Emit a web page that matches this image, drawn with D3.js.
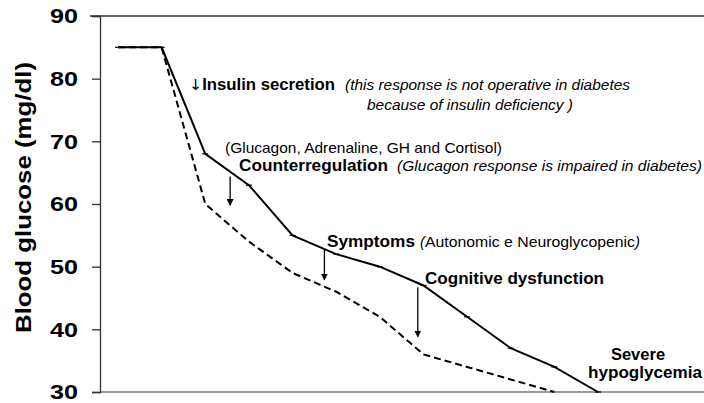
<!DOCTYPE html>
<html>
<head>
<meta charset="utf-8">
<script src="https://cdn.jsdelivr.net/npm/d3@7"></script>
<style>
  html, body { margin: 0; padding: 0; background: #fff; }
  svg { display: block; }
  text { font-family: "Liberation Sans", Arial, sans-serif; fill: #000; }
</style>
</head>
<body>
<svg id="chart" width="704" height="403"></svg>
<script>
// Time steps along the fall of blood glucose (no labels on the x axis)
const steps = [0, 1, 2, 3, 4, 5, 6, 7, 8, 9, 10, 11];
// Blood glucose (mg/dl): normal response (solid) and diabetes (dashed)
const normalGlucose = [85, 85, 68, 63, 55, 52, 50, 47, 42, 37, 34, 30];
const diabetesGlucose = [85, 85, 60, 54, 49, 46, 42, 36, 34, 32, 30];
// Y axis ticks
const yTicks = [30, 40, 50, 60, 70, 80, 90];
// Arrows marking where each response starts (step, glucose from -> to)
const arrowSteps = [2.57, 4.73, 6.87];
const arrowFrom = [64.4, 52.7, 46.7];
const arrowTo = [59.8, 47.9, 38.8];

const svg = d3.select("#chart");

const x = d3.scaleLinear().domain([0, 11]).range([118, 598]);
const y = d3.scaleLinear().domain([30, 90]).range([392, 16]);

// top border line at 90
svg.append("line")
  .attr("x1", 90).attr("x2", 704)
  .attr("y1", y(90)).attr("y2", y(90))
  .attr("stroke", "#333").attr("stroke-width", 1.3);

// x axis baseline
svg.append("line")
  .attr("x1", 100).attr("x2", 704)
  .attr("y1", y(30)).attr("y2", y(30))
  .attr("stroke", "#777").attr("stroke-width", 1.3);

// y axis
const yAxis = d3.axisLeft(y).tickValues(yTicks).tickSize(8).tickPadding(14).tickFormat(d3.format("d"));
const yg = svg.append("g").attr("transform", "translate(100,0)").call(yAxis);
yg.select(".domain").attr("stroke", "#333").attr("stroke-width", 1.3);
yg.selectAll(".tick line").attr("stroke", "#333").attr("stroke-width", 1.3);
yg.selectAll(".tick text")
  .style("font-family", '"Liberation Sans", Arial, sans-serif')
  .style("font-size", "21px").style("font-weight", "bold").attr("fill", "#000")
  .attr("x", -22)
  .attr("textLength", 28).attr("lengthAdjust", "spacingAndGlyphs");

// y axis title
svg.append("text")
  .attr("transform", `translate(31,${(62 + 333) / 2}) rotate(-90)`)
  .attr("text-anchor", "middle")
  .style("font-size", "22px").style("font-weight", "bold")
  .attr("textLength", 271).attr("lengthAdjust", "spacingAndGlyphs")
  .text("Blood glucose (mg/dl)");

const line = d3.line().x((d, i) => x(steps[i])).y(d => y(d));

// normal response
svg.append("path").datum(normalGlucose)
  .attr("d", line).attr("fill", "none")
  .attr("stroke", "#000").attr("stroke-width", 2);

// small dash markers on the solid line
svg.selectAll(".mk").data(normalGlucose).enter().append("line")
  .attr("x1", (d, i) => x(steps[i]) - 3).attr("x2", (d, i) => x(steps[i]) + 3)
  .attr("y1", d => y(d)).attr("y2", d => y(d))
  .attr("stroke", "#000").attr("stroke-width", 1.2);

// diabetes response
svg.append("path").datum(diabetesGlucose)
  .attr("d", line).attr("fill", "none")
  .attr("stroke", "#000").attr("stroke-width", 2)
  .attr("stroke-dasharray", "7,4");

// arrows
const defs = svg.append("defs");
defs.append("marker").attr("id", "ah")
  .attr("viewBox", "0 0 10 10").attr("refX", 9).attr("refY", 5)
  .attr("markerWidth", 7).attr("markerHeight", 7)
  .attr("markerUnits", "userSpaceOnUse").attr("orient", "auto")
  .append("path").attr("d", "M0,0 L10,5 L0,10 z").attr("fill", "#000");

svg.selectAll(".arrow").data(arrowSteps).enter().append("line")
  .attr("x1", d => x(d)).attr("x2", d => x(d))
  .attr("y1", (d, i) => y(arrowFrom[i])).attr("y2", (d, i) => y(arrowTo[i]))
  .attr("stroke", "#000").attr("stroke-width", 1.3)
  .attr("marker-end", "url(#ah)");

// annotations: each piece spans a fixed width from its left edge
function label(x0, x1, yp, text, opt) {
  const t = svg.append("text").attr("x", x0).attr("y", yp)
    .style("font-size", (opt.size || 14) + "px")
    .style("font-weight", opt.bold ? "bold" : "normal")
    .style("font-style", opt.italic ? "italic" : "normal")
    .attr("textLength", x1 - x0).attr("lengthAdjust", "spacingAndGlyphs")
    .text(text);
  return t;
}

const B = { size: 16, bold: true };
const I = { size: 14.5, italic: true };
const R = { size: 14.5 };

// down arrow glyph followed by the bold label, in one text element
const ins = svg.append("text").attr("x", 189).attr("y", 90)
  .attr("textLength", 146).attr("lengthAdjust", "spacingAndGlyphs");
ins.append("tspan")
  .style("font-family", '"DejaVu Sans", sans-serif')
  .style("font-size", "15px").attr("fill", "#000")
  .text("\u2193");
ins.append("tspan")
  .style("font-size", "16px").style("font-weight", "bold")
  .text("Insulin secretion");

label(345, 630, 90, "(this response is not operative in diabetes", I);
label(367, 573, 110, "because of insulin deficiency )", I);

label(225, 502, 153, "(Glucagon, Adrenaline, GH and Cortisol)", R);
label(239, 388, 171, "Counterregulation", B);
label(397, 702, 171, "(Glucagon response is impaired in diabetes)", I);

label(327, 415, 247, "Symptoms", B);
label(420, 425, 247, "(", I);
label(425, 635, 247, "Autonomic e Neuroglycopenic", R);
label(635, 640, 247, ")", I);

label(425, 604, 284, "Cognitive dysfunction", B);

// two-line label at the end of the solid curve
svg.append("text").attr("x", 638).attr("y", 360)
  .attr("text-anchor", "middle")
  .style("font-size", "16.5px").style("font-weight", "bold")
  .text("Severe");
svg.append("text").attr("x", 645).attr("y", 378)
  .attr("text-anchor", "middle")
  .style("font-size", "16.5px").style("font-weight", "bold")
  .attr("textLength", 114).attr("lengthAdjust", "spacingAndGlyphs")
  .text("hypoglycemia");
</script>
</body>
</html>
